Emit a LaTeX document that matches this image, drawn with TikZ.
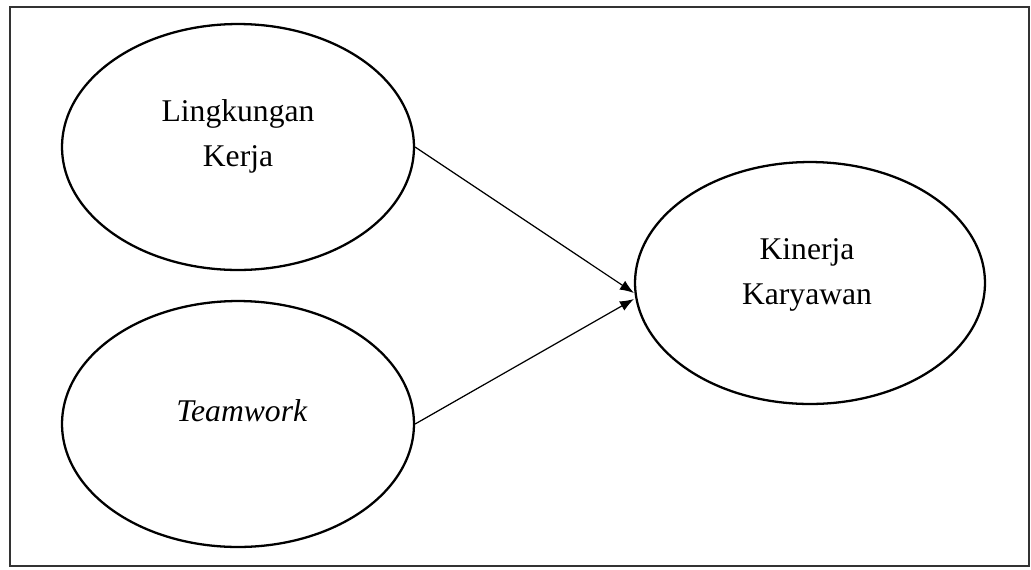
\documentclass[tikz,border=0pt]{standalone}
\usepackage{fontspec}
\setmainfont{Liberation Serif}
\usetikzlibrary{shapes.geometric,arrows.meta}
\begin{document}
\begin{tikzpicture}[x=0.02cm,y=-0.02cm,
    construct/.style={ellipse, draw, line width=1.3pt, minimum width=7.04cm, minimum height=4.92cm, inner sep=0pt},
    caption/.style={align=center, inner sep=0pt, font=\fontsize{18}{25.5}\selectfont},
    link/.style={-{Latex[length=8pt,width=6pt]}, line width=0.7pt}]

        %Frame
        \useasboundingbox (0,0) rectangle (1031,569);
        \draw [line width=1.4pt, black!80] (10,7) rectangle (1029,566);

        %Lingkungan kerja
        \node [construct] (lingkungan) at (238,147) {};
        \node [caption] (lingkunganText) at (238,136) {Lingkungan\\Kerja};

        %Teamwork
        \node [construct] (teamwork) at (238,424) {};
        \node [caption] (teamworkText) at (242,411) {\textit{Teamwork}};

        %Kinerja karyawan
        \node [construct, minimum width=7.0cm, minimum height=4.84cm] (kinerja) at (810,283) {};
        \node [caption] (kinerjaText) at (807,275) {Kinerja\\Karyawan};

        %Arrows
        \coordinate (tipA) at (634,293);
        \coordinate (tipB) at (634,299);
        \draw [link] (lingkungan.east) -- (tipA);
        \draw [link] (teamwork.east) -- (tipB);

\end{tikzpicture}
\end{document}
